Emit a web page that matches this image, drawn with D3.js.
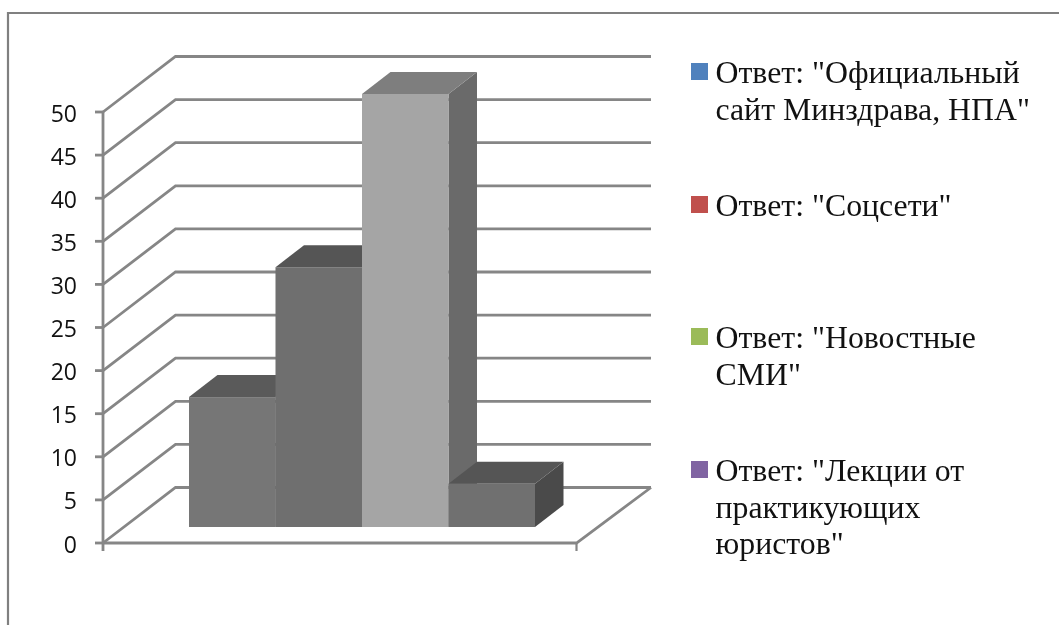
<!DOCTYPE html>
<html><head><meta charset="utf-8">
<script src="https://cdn.jsdelivr.net/npm/d3@7/dist/d3.min.js"></script>
<style>html,body{margin:0;padding:0;background:#fff;overflow:hidden}svg{display:block;filter:blur(0.45px)}</style>
</head><body><svg id="c" width="1059" height="625"></svg>
<script>
const categories = ['Ответ: "Официальный сайт Минздрава, НПА"','Ответ: "Соцсети"','Ответ: "Новостные СМИ"','Ответ: "Лекции от практикующих юристов"'];
const values = [15, 30, 50, 5];
const tickValues = [0,5,10,15,20,25,30,35,40,45,50];
const legendLines = [['Ответ: "Официальный','сайт Минздрава, НПА"'],['Ответ: "Соцсети"'],['Ответ: "Новостные','СМИ"'],['Ответ: "Лекции от','практикующих','юристов"']];
const legendColors = ['#4f81bd','#c0504d','#9bbb59','#8064a2'];
const faceFront = ['#767676','#6f6f6f','#a5a5a5','#707070'];
const faceTop = ['#5a5a5a','#555555','#7e7e7e','#555555'];
const faceSide = ['#4e4e4e','#4e4e4e','#6a6a6a','#4a4a4a'];

const svg = d3.select('#c');
const grid = '#868686';
const wallDx = 72.5, wallDy = 55.5, barDx = 28.5, barDy = 22;
const y = d3.scaleLinear().domain([0,50]).range([543,112]);
const yBar = d3.scaleLinear().domain([0,50]).range([527,94]);
const x = d3.scaleBand().domain(categories).range([189,535]).padding(0);
const floorX0 = 103, floorX1 = 576.5, backX1 = 651;

svg.append('path').attr('d','M1059,13H8V625').attr('fill','none').attr('stroke','#808080').attr('stroke-width',2.2);

const g = svg.append('g').attr('fill','none').attr('stroke',grid).attr('stroke-width',2.8);
g.selectAll('path.grid').data(tickValues).join('path').attr('class','grid')
  .attr('d',d=>`M${floorX0},${y(d)}L${floorX0+wallDx},${y(d)-wallDy}H${backX1}`);
g.append('path').attr('d',`M${floorX0},${y(0)}H${floorX1}L${backX1},${y(0)-wallDy}`);
g.append('path').attr('d',`M${floorX0},${y(50)}V${y(0)+8}`);
g.selectAll('path.tick').data(tickValues).join('path').attr('class','tick')
  .attr('d',d=>`M${floorX0-8},${y(d)}H${floorX0}`);
g.append('path').attr('d',`M${floorX1},${y(0)}V${y(0)+8}`).attr('stroke-width',2.2);

svg.selectAll('text.yl').data(tickValues).join('text').attr('class','yl')
  .attr('x',77).attr('y',d=>y(d)+9.5).attr('text-anchor','end')
  .attr('font-family','"Open Sans"').attr('font-size',23).attr('fill','#111')
  .text(d=>d);

const data = categories.map((c,i)=>({c,v:values[i],i}));
const bars = svg.selectAll('g.bar').data(data).join('g').attr('class','bar');
bars.append('path').attr('fill',d=>faceSide[d.i]).attr('d',d=>{
  const r=x(d.c)+x.bandwidth(),t=yBar(d.v),b=yBar(0);
  return `M${r},${t}L${r+barDx},${t-barDy}V${b-barDy}L${r},${b}Z`;});
bars.append('path').attr('fill',d=>faceTop[d.i]).attr('d',d=>{
  const l=x(d.c),r=l+x.bandwidth(),t=yBar(d.v);
  return `M${l},${t}L${l+barDx},${t-barDy}H${r+barDx}L${r},${t}Z`;});
bars.append('rect').attr('fill',d=>faceFront[d.i])
  .attr('x',d=>x(d.c)).attr('y',d=>yBar(d.v)).attr('width',x.bandwidth()).attr('height',d=>yBar(0)-yBar(d.v));

const legendBase = [83,216,348,481];
const lg = svg.selectAll('g.lg').data(legendLines).join('g').attr('class','lg');
lg.append('rect').attr('x',691).attr('y',(d,i)=>legendBase[i]-20).attr('width',17).attr('height',17).attr('fill',(d,i)=>legendColors[i]);
lg.each(function(lines,i){
  d3.select(this).selectAll('text').data(lines).join('text')
    .attr('x',715.5).attr('y',(l,j)=>legendBase[i]+j*36.5)
    .attr('font-family','"Liberation Serif"').attr('font-size',31.8).attr('fill','#111').text(l=>l);
});
</script></body></html>
